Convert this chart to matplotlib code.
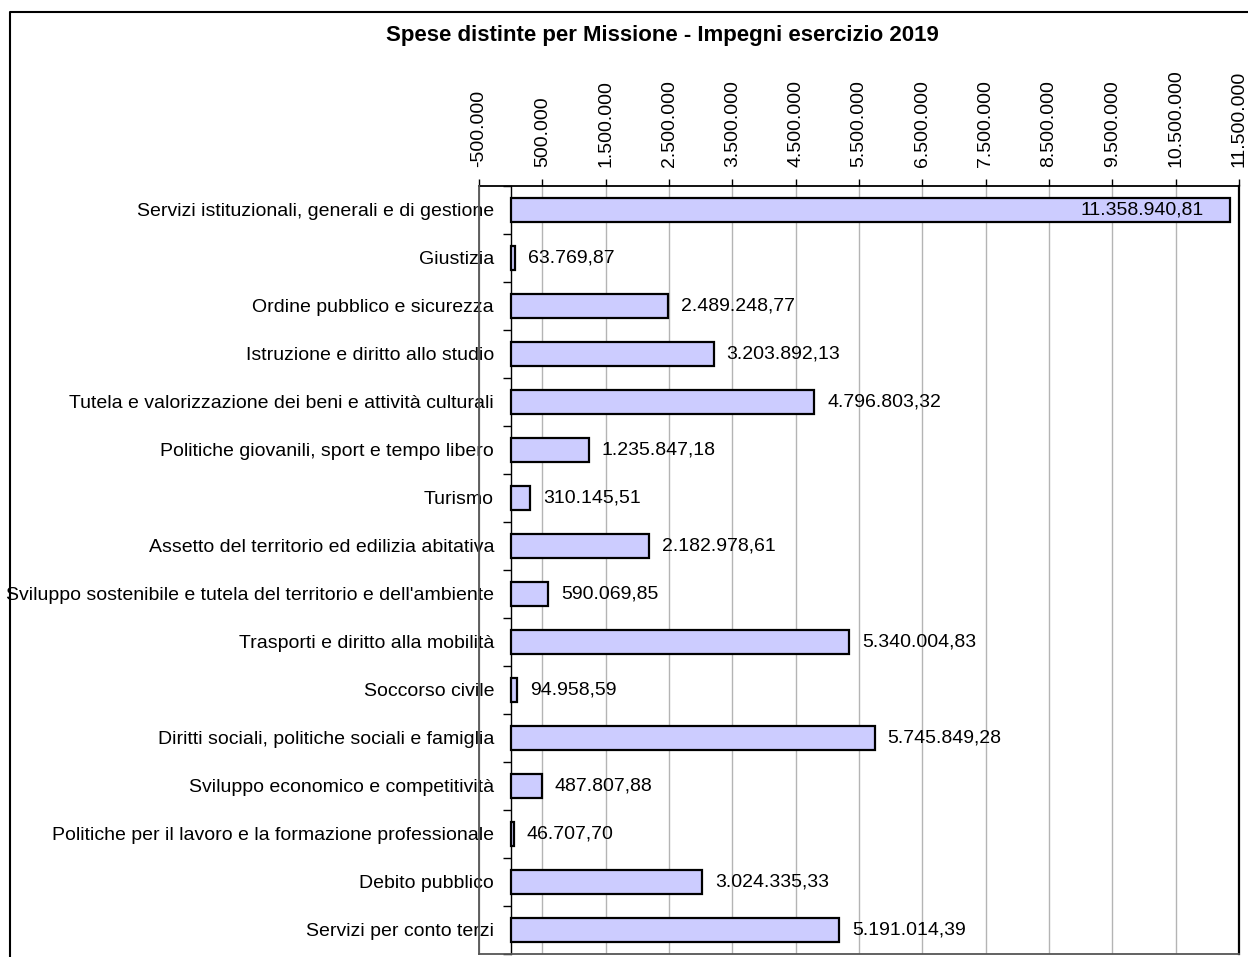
import matplotlib
matplotlib.use("Agg")
import matplotlib.pyplot as plt
import numpy as np
from matplotlib.lines import Line2D

# Missioni e impegni 2019
missioni = [
    "Servizi istituzionali, generali e di gestione",
    "Giustizia",
    "Ordine pubblico e sicurezza",
    "Istruzione e diritto allo studio",
    "Tutela e valorizzazione dei beni e attività culturali",
    "Politiche giovanili, sport e tempo libero",
    "Turismo",
    "Assetto del territorio ed edilizia abitativa",
    "Sviluppo sostenibile e tutela del territorio e dell'ambiente",
    "Trasporti e diritto alla mobilità",
    "Soccorso civile",
    "Diritti sociali, politiche sociali e famiglia",
    "Sviluppo economico e competitività",
    "Politiche per il lavoro e la formazione professionale",
    "Debito pubblico",
    "Servizi per conto terzi",
]
impegni = [
    11358940.81, 63769.87, 2489248.77, 3203892.13, 4796803.32, 1235847.18,
    310145.51, 2182978.61, 590069.85, 5340004.83, 94958.59, 5745849.28,
    487807.88, 46707.70, 3024335.33, 5191014.39,
]
x_ticks = [-500000 + 1000000 * i for i in range(13)]


def fmt_it(v, dec=2):
    s = f"{v:,.{dec}f}"
    return s.replace(",", "X").replace(".", ",").replace("X", ".")


plt.rcParams["font.family"] = ["Liberation Sans", "DejaVu Sans"]
W, H = 1248, 957
fs = 14
fig = plt.figure(figsize=(W / 100, H / 100), dpi=100)

# outer chart border, only left and top are inside the picture
fig.add_artist(Line2D([10 / W, 10 / W, 1], [0, 1 - 12 / H, 1 - 12 / H],
                      transform=fig.transFigure, color="black", lw=1.5))

ax = fig.add_axes([479 / W, 1 - 954 / H, (1239 - 479) / W, (954 - 186) / H])

y = np.arange(len(missioni))
ax.barh(y, impegni, height=0.5, color="#CCCCFF", edgecolor="black", linewidth=1.6, zorder=3)

ax.set_xlim(x_ticks[0], x_ticks[-1])
ax.set_ylim(len(missioni) - 0.5, -0.5)

# x axis on top, rotated labels
ax.xaxis.tick_top()
ax.set_xticks(x_ticks)
ax.set_xticklabels([fmt_it(t, 0) for t in x_ticks], rotation=90, fontsize=fs)
ax.tick_params(axis="x", direction="out", length=5, width=1, pad=9, color="black")
ax.grid(axis="x", color="#b4b4b4", linewidth=1, zorder=0)

# category axis at zero
ax.spines["left"].set_position(("data", 0))
ax.spines["left"].set_linewidth(1)
ax.set_yticks(y)
ax.set_yticklabels(missioni, fontsize=fs)
ax.set_yticks(np.arange(len(missioni) + 1) - 0.5, minor=True)
ax.tick_params(axis="y", which="major", length=0, pad=12)
ax.tick_params(axis="y", which="minor", direction="out", length=6, width=1)

ax.spines["top"].set_linewidth(1.3)
ax.spines["right"].set_linewidth(1.6)
ax.spines["bottom"].set_color("#555555")
ax.spines["bottom"].set_linewidth(1.3)
ax.add_line(Line2D([x_ticks[0], x_ticks[0]], [-0.5, len(missioni) - 0.5],
                   color="#555555", lw=1.3, zorder=4, clip_on=False))

# value labels
for yi, v in zip(y, impegni):
    if v > 10000000:
        ax.annotate(fmt_it(v), (v, yi), xytext=(-26, 0), textcoords="offset pixels",
                    ha="right", va="center", fontsize=fs, zorder=5)
    else:
        ax.annotate(fmt_it(v), (v, yi), xytext=(13, 0), textcoords="offset pixels",
                    ha="left", va="center", fontsize=fs, zorder=5)

fig.text(662 / W, 1 - 36 / H, "Spese distinte per Missione - Impegni esercizio 2019",
         ha="center", va="center", fontsize=16, fontweight="bold")

fig.savefig("out.png", dpi=100)
